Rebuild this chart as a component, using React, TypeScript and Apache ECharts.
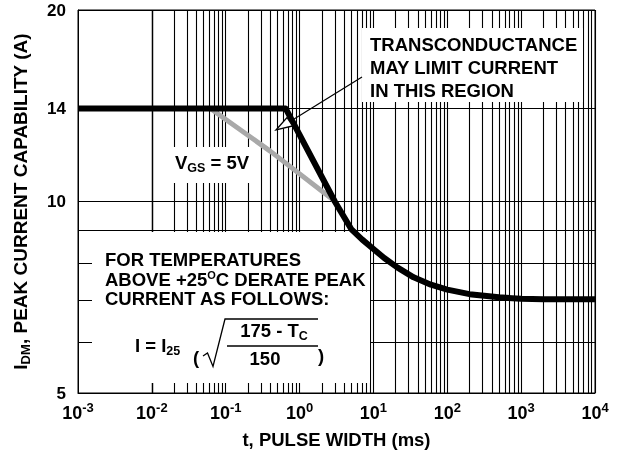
import React, { useEffect, useRef } from "react";
import * as echarts from "echarts";

// ---- data ----
const xDecades = [0.001, 0.01, 0.1, 1, 10, 100, 1000];
const xMinorMultipliers = [1, 2, 3, 4, 5, 6, 7, 8, 9];
const xMax = 10000;
const yLabelValues = [5, 10, 14, 20];
const yGridValues = [6, 7, 8, 9];

const peakT = [0.001, 0.65, 3, 5, 7, 10, 14, 21, 35, 60, 100, 200, 500, 1000, 2000, 10000];
const peakI = [14, 14, 10, 9.05, 8.72, 8.42, 8.15, 7.88, 7.6, 7.4, 7.27, 7.15, 7.07, 7.03, 7.02, 7.02];

const vgsT = [0.062, 0.4, 3.05];
const vgsI = [14, 12.0, 10];

const FONT = '"Liberation Sans", Arial, Helvetica, sans-serif';

export default function App() {
  const ref = useRef<HTMLDivElement>(null);

  useEffect(() => {
    document.body.style.margin = "0";
    if (!ref.current) return;
    const chart = echarts.init(ref.current, undefined, { renderer: "svg" });

    const xGridValues: number[] = [];
    xDecades.forEach((d) => xMinorMultipliers.forEach((m) => xGridValues.push(+(m * d).toPrecision(6))));
    xGridValues.push(xMax);

    const lineData: any[] = [];
    xGridValues.forEach((v) => lineData.push({ xAxis: v }));
    yGridValues.forEach((v) => lineData.push({ yAxis: v }));
    yLabelValues.forEach((v) =>
      lineData.push({ yAxis: v, name: String(v), label: { show: true } })
    );

    const bold = (size: number) => `bold ${size}px ${FONT}`;
    const subRich = { s: { font: bold(12.5), fill: "#000", padding: [12, 0, 0, 0] } };
    const supRich = { o: { font: bold(11), fill: "#000", padding: [0, 0, 9, 0] } };

    const txt = (x: number, y: number, text: string, size = 18.5, align = "left", rich?: any) => ({
      type: "text",
      x,
      y,
      z: 10,
      silent: true,
      style: {
        text,
        fill: "#000",
        font: bold(size),
        align,
        verticalAlign: "middle",
        textAlign: align,
        textVerticalAlign: "middle",
        rich,
      },
    });

    const graphics: any[] = [
      // white annotation boxes
      { type: "rect", z: 3, silent: true, shape: { x: 362, y: 28, width: 221, height: 74 }, style: { fill: "#fff" } },
      { type: "rect", z: 3, silent: true, shape: { x: 173, y: 147, width: 85, height: 36 }, style: { fill: "#fff" } },
      { type: "rect", z: 3, silent: true, shape: { x: 92, y: 232, width: 278, height: 151 }, style: { fill: "#fff" } },
      // transconductance note
      txt(370, 44, "TRANSCONDUCTANCE"),
      txt(370, 67, "MAY LIMIT CURRENT"),
      txt(370, 90, "IN THIS REGION"),
      // leader + arrow head
      { type: "line", z: 9, silent: true, shape: { x1: 362, y1: 77, x2: 286, y2: 124 }, style: { stroke: "#000", lineWidth: 1.2 } },
      {
        type: "polygon",
        z: 10,
        silent: true,
        shape: { points: [[276, 130], [287, 117.5], [292.5, 126]] },
        style: { fill: "#fff", stroke: "#000", lineWidth: 1.3 },
      },
      // VGS label
      txt(175, 162, "V{s|GS} = 5V", 18.5, "left", subRich),
      // derating note
      txt(105, 259, "FOR TEMPERATURES"),
      txt(105, 279, "ABOVE +25{o|O}C DERATE PEAK", 18.5, "left", supRich),
      txt(105, 298, "CURRENT AS FOLLOWS:"),
      // formula
      txt(135, 345, "I = I{s|25}", 18.5, "left", subRich),
      txt(193, 357, "(", 18.5),
      {
        type: "polyline",
        z: 10,
        silent: true,
        shape: { points: [[203, 356], [207.5, 353], [213, 366.5], [225, 319], [318, 319]] },
        style: { stroke: "#000", lineWidth: 1.3, fill: null },
      },
      txt(274, 330, "175 - T{s|C}", 18.5, "center", subRich),
      { type: "line", z: 10, silent: true, shape: { x1: 227, y1: 346, x2: 318, y2: 346 }, style: { stroke: "#000", lineWidth: 1.3 } },
      txt(265, 358, "150", 18.5, "center"),
      txt(318, 355, ")", 18.5),
    ];

    const option: any = {
      animation: false,
      grid: { left: 78, right: 23, top: 10, bottom: 60, show: true, borderColor: "#000", borderWidth: 1 },
      xAxis: {
        type: "log",
        logBase: 10,
        min: 0.001,
        max: 10000,
        splitNumber: 7,
        axisLine: { show: true, lineStyle: { color: "#000", width: 1 } },
        axisTick: { show: false },
        splitLine: { show: false },
        axisLabel: {
          margin: 8,
          color: "#000",
          formatter: (v: number) => `{b|10}{s|${Math.round(Math.log10(v))}}`,
          rich: {
            b: { fontSize: 18, fontWeight: "bold", fontFamily: FONT, color: "#000" },
            s: { fontSize: 13, fontWeight: "bold", fontFamily: FONT, color: "#000", padding: [0, 0, 10, 0] },
          },
        },
        name: "t, PULSE WIDTH (ms)",
        nameLocation: "middle",
        nameGap: 37,
        nameTextStyle: { fontSize: 18.5, fontWeight: "bold", fontFamily: FONT, color: "#000" },
      },
      yAxis: {
        type: "log",
        logBase: 10,
        min: 5,
        max: 20,
        axisLine: { show: true, lineStyle: { color: "#000", width: 1 } },
        axisTick: { show: false },
        splitLine: { show: false },
        axisLabel: { show: false },
        name: "{a|I}{s|DM}{a|, PEAK CURRENT CAPABILITY (A)}",
        nameLocation: "middle",
        nameRotate: 90,
        nameGap: 46,
        nameTextStyle: {
          rich: {
            a: { fontSize: 19, fontWeight: "bold", fontFamily: FONT, color: "#000" },
            s: { fontSize: 13, fontWeight: "bold", fontFamily: FONT, color: "#000", padding: [10, 0, 0, 0] },
          },
        },
      },
      series: [
        {
          type: "line",
          z: 1,
          data: [[1, 10]],
          showSymbol: false,
          symbol: "none",
          lineStyle: { opacity: 0 },
          silent: true,
          markLine: {
            z: 1,
            silent: true,
            symbol: ["none", "none"],
            animation: false,
            lineStyle: { color: "#000", width: 1.1, type: "solid" },
            label: {
              show: false,
              position: "start",
              formatter: "{b}",
              distance: 12,
              fontSize: 17,
              fontWeight: "bold",
              fontFamily: FONT,
              color: "#000",
            },
            emphasis: { disabled: true },
            data: lineData,
          },
        },
        {
          type: "line",
          z: 5,
          data: vgsT.map((t, i) => [t, vgsI[i]]),
          showSymbol: false,
          symbol: "none",
          silent: true,
          lineStyle: { color: "#a9a9a9", width: 5, cap: "butt" },
        },
        {
          type: "line",
          z: 6,
          data: peakT.map((t, i) => [t, peakI[i]]),
          showSymbol: false,
          symbol: "none",
          silent: true,
          lineStyle: { color: "#000", width: 6, cap: "butt", join: "round" },
        },
      ],
      graphic: { elements: graphics },
    };

    chart.setOption(option);
    return () => chart.dispose();
  }, []);

  return <div ref={ref} style={{ position: "fixed", left: 0, top: 0, width: 618, height: 454 }} />;
}
